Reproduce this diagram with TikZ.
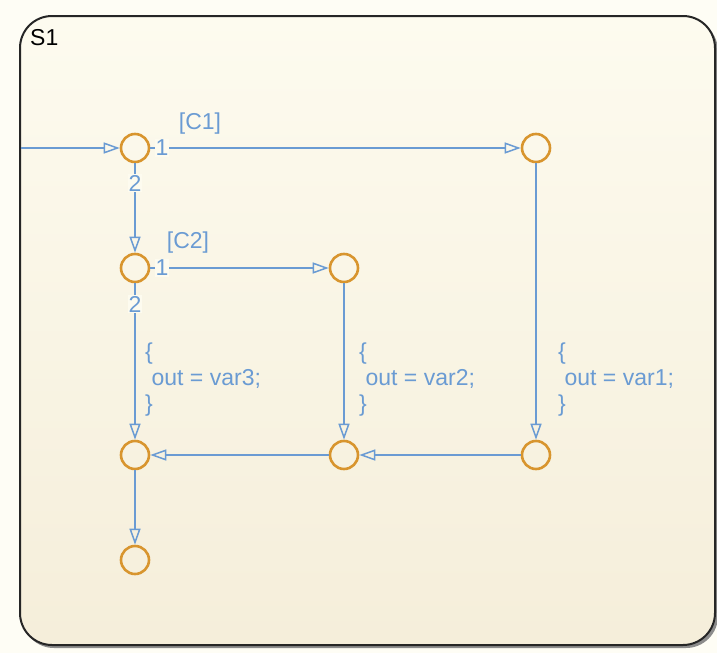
\documentclass[tikz,border=0pt]{standalone}
\usepackage{fontspec}
\setmainfont{Liberation Sans}
\usetikzlibrary{arrows.meta}
\definecolor{transc}{HTML}{6A9BD3}
\definecolor{junc}{HTML}{D8952E}
\definecolor{bgout}{HTML}{FEFDF5}
\definecolor{bgtop}{HTML}{FDFBEF}
\definecolor{bgbot}{HTML}{F5EEDA}
\begin{document}
\begin{tikzpicture}[x=1pt,y=-1pt,
  junction/.style={circle,draw=junc,line width=2.6pt,minimum size=28pt,inner sep=0pt},
  trans/.style={draw=transc,line width=1.7pt,-{Triangle[open,length=16pt,width=11pt,line width=1.5pt]}},
  lbl/.style={text=transc,font=\fontsize{23}{26}\selectfont},
  ord/.style={lbl,fill=bgtop,inner sep=1pt},
  action/.style={lbl,align=left,anchor=west,inner sep=0pt}]
\useasboundingbox (0,0) rectangle (717,653);
\fill[bgout] (0,0) rectangle (717,653);
% chart box with shadow
\fill[black!45,rounded corners=32pt] (22,19) rectangle (718,648);
\shade[top color=bgtop,bottom color=bgbot,draw=black!85,line width=2pt,rounded corners=32pt] (20,16) rectangle (715,645);
\node[anchor=west,inner sep=0pt,font=\fontsize{23}{26}\selectfont] (s1) at (30,38) {S1};
% junctions
\node[junction] (j1) at (135,148) {};
\node[junction] (j2) at (536,148) {};
\node[junction] (j3) at (135,268) {};
\node[junction] (j4) at (344,268) {};
\node[junction] (j5) at (135,455) {};
\node[junction] (j6) at (344,455) {};
\node[junction] (j7) at (536,455) {};
\node[junction] (j8) at (135,560) {};
\coordinate (start) at (21,148);
% transitions
\draw[trans] (start) -- (j1);
\draw[trans] (j1) -- (j2);
\draw[trans] (j1) -- (j3);
\draw[trans] (j3) -- (j4);
\draw[trans] (j3) -- (j5);
\draw[trans] (j4) -- (j6);
\draw[trans] (j2) -- (j7);
\draw[trans] (j7) -- (j6);
\draw[trans] (j6) -- (j5);
\draw[trans] (j5) -- (j8);
% labels
\node[lbl] (c1) at (200,124) {[C1]};
\node[lbl] (c2) at (188,243) {[C2]};
\node[ord] (o11) at (162,148) {1};
\node[ord] (o12) at (135,183) {2};
\node[ord] (o21) at (162,268) {1};
\node[ord] (o22) at (135,304) {2};
\node[action] (a3) at (145,380) {\{\\\hspace{0.28em}out = var3;\\\}};
\node[action] (a2) at (359,380) {\{\\\hspace{0.28em}out = var2;\\\}};
\node[action] (a1) at (558,380) {\{\\\hspace{0.28em}out = var1;\\\}};
\end{tikzpicture}
\end{document}
